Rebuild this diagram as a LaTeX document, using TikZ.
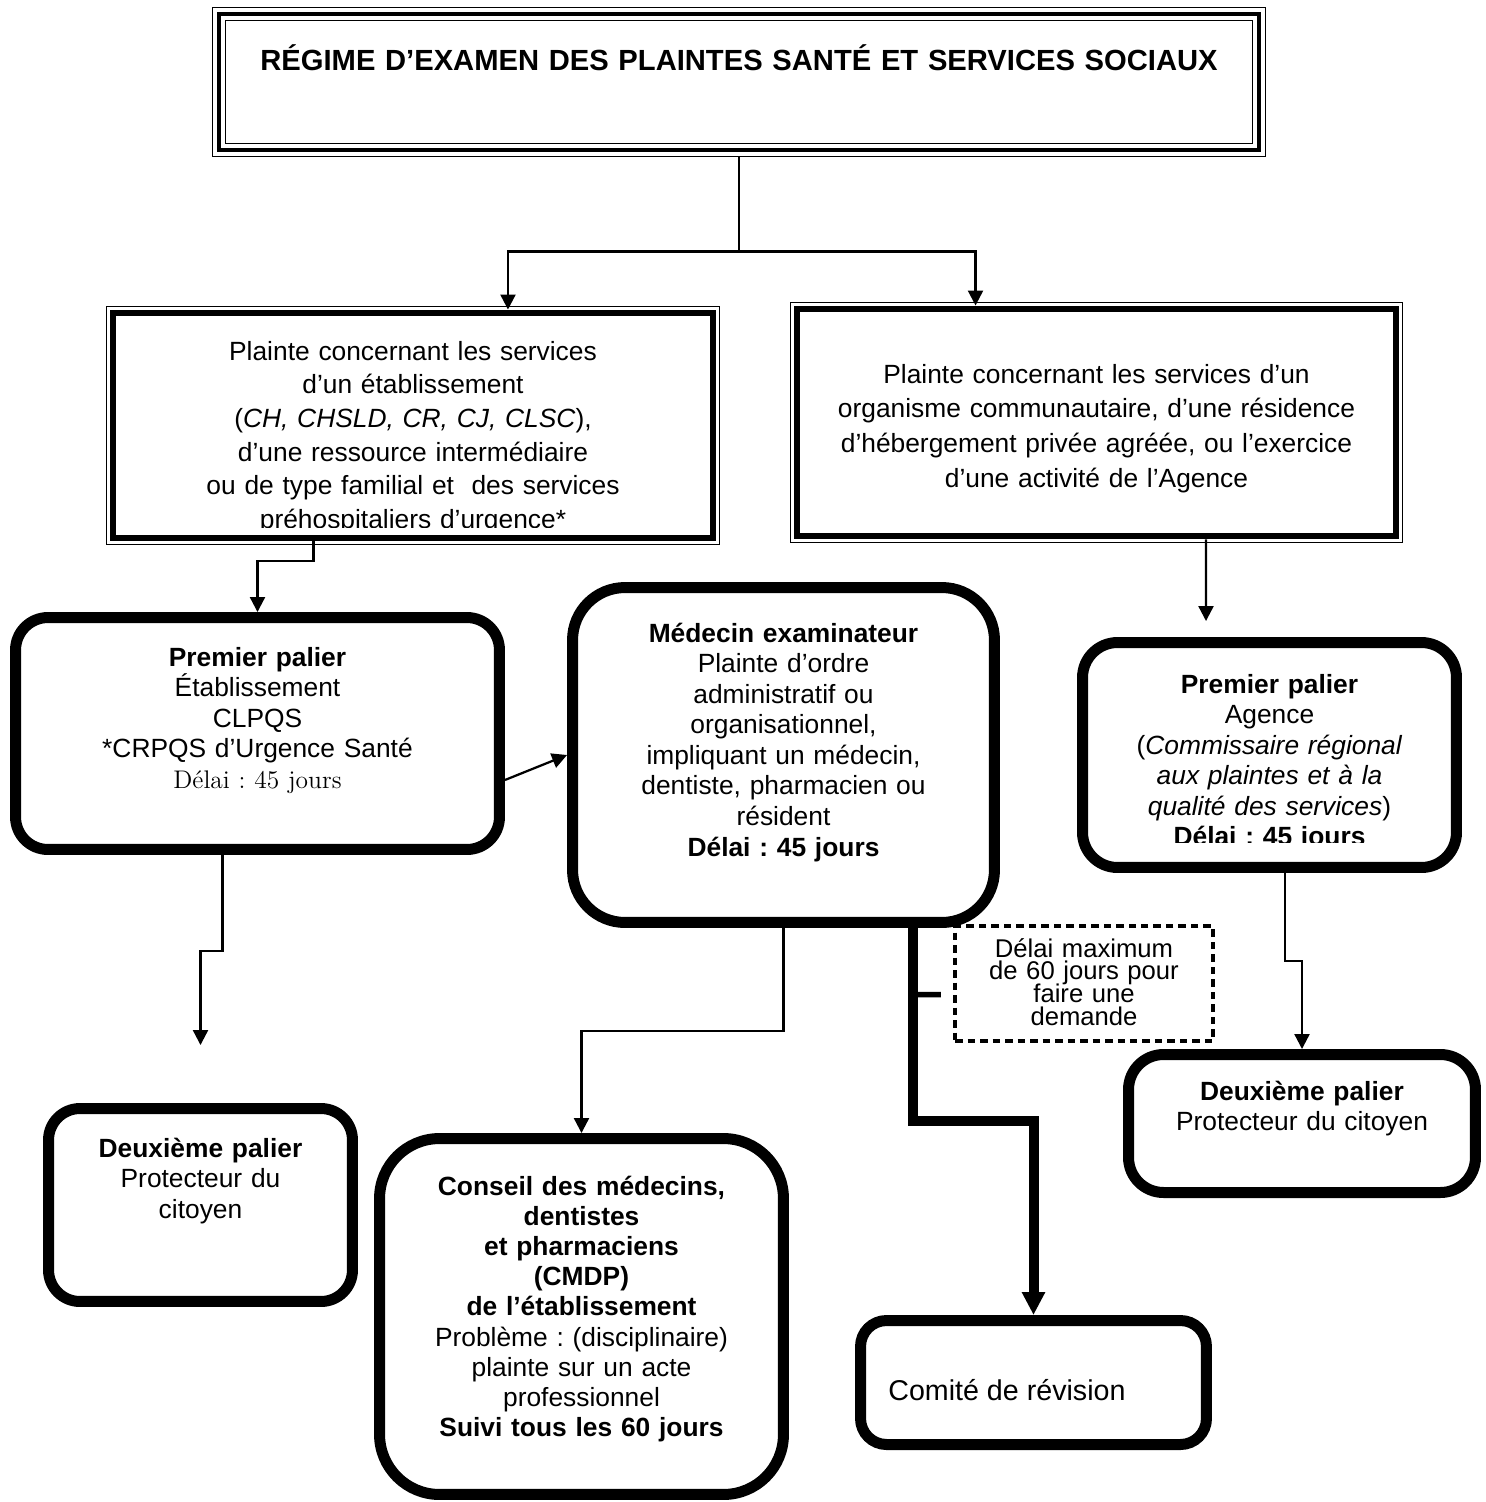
\documentclass[tikz,border=0pt]{standalone}
\usepackage{fontspec}
\setsansfont{Liberation Sans}
\renewcommand{\familydefault}{\sfdefault}
\usetikzlibrary{arrows.meta}

\begin{document}
\frenchspacing
\begin{tikzpicture}[x=0.02cm, y=-0.02cm,
    % Triple frame of the title (thin, thick, thin)
    tribox/.style={draw, line width=0.09cm, outer sep=0.13cm,
        preaction={draw, line width=0.28cm},
        preaction={draw=white, line width=0.24cm}},
    % Double frame of the two complaint boxes (thin outside, thick inside)
    framebox/.style={draw, fill=white, line width=0.12cm, outer sep=0.06cm,
        preaction={draw, line width=0.28cm},
        preaction={draw=white, line width=0.24cm}},
    % Rounded boxes for the levels
    palier/.style={draw, line width=0.22cm},
    % Dotted note box
    notebox/.style={draw, line width=0.09cm, dash pattern=on 0.15cm off 0.1cm},
    % Centred text blocks, placed by the baseline of their first line
    txt/.style={anchor=base, inner sep=0pt, align=center, text width=#1,
        font=\fontsize{15}{17.4}\selectfont},
    % Connectors
    arr/.style={-{Triangle[length=0.3cm, width=0.3cm]}, line width=0.045cm},
    bigarr/.style={-{Triangle[length=0.46cm, width=0.44cm]}, line width=0.2cm}
]

\useasboundingbox (0,0) rectangle (1486,1502);

% ==========================
% Title
% ==========================
\node[tribox, minimum width=20.8cm, minimum height=2.72cm] (title) at (739,82) {};
\node[txt=21cm, font=\fontsize{16.6}{20}\selectfont\bfseries] (titletxt) at (739,70)
    {RÉGIME D’EXAMEN DES PLAINTES SANTÉ ET SERVICES SOCIAUX};

% ==========================
% The two kinds of complaints
% ==========================
\node[framebox, minimum width=12cm, minimum height=4.51cm] (pl1) at (413,425.25) {};
\begin{scope}
    % last line is cut by the frame
    \clip (113,316) rectangle (713,527);
    \node[txt=11.5cm, font=\fontsize{15}{19.2}\selectfont] (pl1txt) at (413,360)
        {Plainte concernant les services\\
         d’un établissement\\
         (\textit{CH, CHSLD, CR, CJ, CLSC}),\\
         d’une ressource intermédiaire\\
         ou de type familial et~ des services\\
         préhospitaliers d’urgence*};
\end{scope}

\node[framebox, minimum width=12cm, minimum height=4.56cm] (pl2) at (1096.5,422.5) {};
\node[txt=11.8cm, font=\fontsize{15}{19.9}\selectfont] (pl2txt) at (1096.5,383)
    {Plainte concernant les services d’un\\
     organisme communautaire, d’une résidence\\
     d’hébergement privée agréée, ou l’exercice\\
     d’une activité de l’Agence};

% ==========================
% First level and examining doctor
% ==========================
\node[palier, rounded corners=0.65cm, minimum width=9.68cm, minimum height=4.64cm] (pp1) at (257.5,733.5) {};
\node[txt=9cm] (pp1txt) at (257.5,666)
    {\textbf{Premier palier}\\
     Établissement\\
     CLPQS\\
     {*}CRPQS d’Urgence Santé\\
     {\rmfamily\fontsize{14.5}{17.4}\selectfont Délai : 45 jours}};

\node[palier, rounded corners=1.05cm, minimum width=8.44cm, minimum height=6.7cm] (med) at (783.5,755) {};
\node[txt=8cm] (medtxt) at (783.5,642)
    {\textbf{Médecin examinateur}\\
     Plainte d’ordre\\
     administratif ou\\
     organisationnel,\\
     impliquant un médecin,\\
     dentiste, pharmacien ou\\
     résident\\
     \textbf{Délai : 45 jours}};

\node[palier, rounded corners=0.7cm, minimum width=7.48cm, minimum height=4.5cm] (ag) at (1269.5,755) {};
\begin{scope}
    % last line is cut by the box
    \clip (1088,648) rectangle (1451,842);
    \node[txt=7.4cm] (agtxt) at (1269.5,693)
        {\textbf{Premier palier}\\
         Agence\\
         (\textit{Commissaire régional}\\
         \textit{aux plaintes et à la}\\
         \textit{qualité des services})\\
         \textbf{Délai : 45 jours}};
\end{scope}

% ==========================
% Second level, CMDP and review committee
% ==========================
\node[palier, rounded corners=0.63cm, minimum width=6.08cm, minimum height=3.86cm] (dp1) at (200.5,1205) {};
\node[txt=6cm] (dp1txt) at (200.5,1157)
    {\textbf{Deuxième palier}\\
     Protecteur du\\
     citoyen};

\node[palier, rounded corners=0.7cm, minimum width=6.94cm, minimum height=2.76cm] (dp2) at (1302,1123.5) {};
\node[txt=6.8cm] (dp2txt) at (1302,1100)
    {\textbf{Deuxième palier}\\
     Protecteur du citoyen};

\node[palier, rounded corners=1.2cm, minimum width=8.08cm, minimum height=7.12cm] (cmdp) at (581.5,1316.5) {};
\node[txt=8cm, font=\fontsize{15}{17.2}\selectfont] (cmdptxt) at (581.5,1195)
    {\textbf{Conseil des médecins,}\\
     \textbf{dentistes}\\
     \textbf{et pharmaciens}\\
     \textbf{(CMDP)}\\
     \textbf{de l’établissement}\\
     Problème : (disciplinaire)\\
     plainte sur un acte\\
     professionnel\\
     \textbf{Suivi tous les 60 jours}};

\node[palier, rounded corners=0.52cm, minimum width=6.92cm, minimum height=2.48cm] (com) at (1033.5,1382.5) {};
\node[anchor=base west, inner sep=0pt, font=\fontsize{16.3}{19}\selectfont] (comtxt) at (888,1400)
    {Comité de révision};

\node[notebox, minimum width=5.16cm, minimum height=2.3cm] (delai) at (1084,983.5) {};
\node[txt=5cm, font=\fontsize{14.6}{12.9}\selectfont] (delaitxt) at (1084,957)
    {\lineskiplimit=-20pt\relax
     Délai maximum\\
     de 60 jours pour\\
     faire une\\
     demande};

% ==========================
% Connectors
% ==========================
\draw[arr] (title.south) -- ++(0,95) -| ([xshift=1.9cm]pl1.north);
\draw[arr] (title.south) -- ++(0,95) -| ([xshift=-2.42cm]pl2.north);

\draw[arr] ([xshift=-1.99cm]pl1.south) -- ++(0,20) -| (pp1.north);
\draw[arr] ([yshift=-0.93cm]pp1.east) -- (med.west);
\draw[arr] ([xshift=-0.7cm]pp1.south) -- ++(0,96) -| ([yshift=1.16cm]dp1.north);

\draw[arr] ([xshift=2.19cm]pl2.south) -- ([xshift=-1.27cm,yshift=0.32cm]ag.north);
\draw[arr] ([xshift=0.31cm]ag.south) -- ++(0,88) -| (dp2.north);

\draw[arr] (med.south) -- ++(0,103) -| (cmdp.north);

% Thick way to the review committee, with the note attached
\coordinate (revbend) at (913,1121);
\coordinate (stubfoot) at (913,994.5);
\draw[bigarr] (med.south -| revbend) -- (revbend) -| (com.north);
\draw[line width=0.11cm] (stubfoot) -- ([xshift=-0.24cm,yshift=-0.22cm]delai.west);

\end{tikzpicture}
\end{document}
